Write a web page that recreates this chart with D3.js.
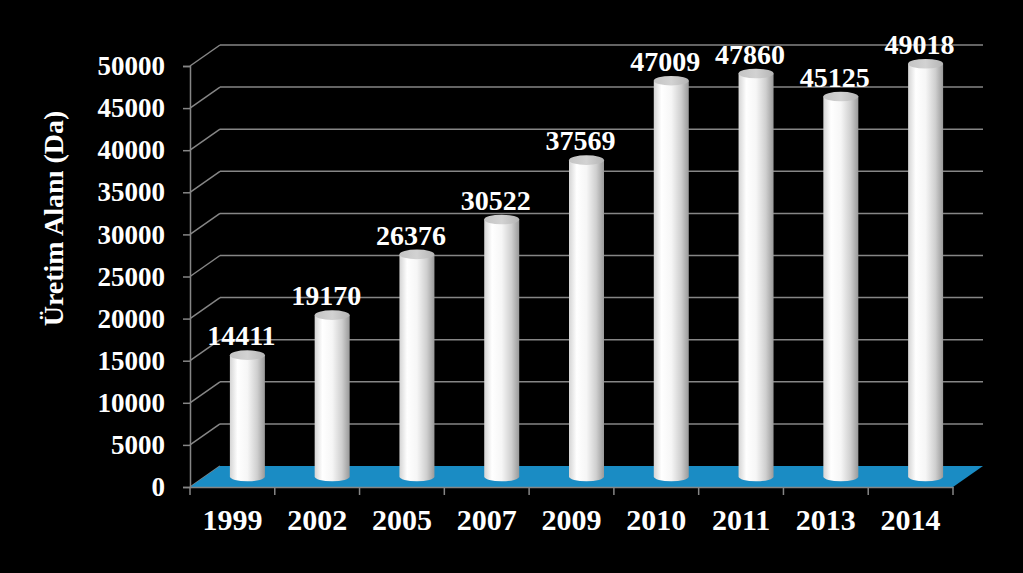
<!DOCTYPE html>
<html>
<head>
<meta charset="utf-8">
<script src="https://cdn.jsdelivr.net/npm/d3@7"></script>
<style>
  html, body { margin: 0; padding: 0; background: #000; }
  svg { display: block; }
</style>
</head>
<body>
<div id="chart"></div>
<script>
const years = ['1999', '2002', '2005', '2007', '2009', '2010', '2011', '2013', '2014'];
const areas = [14411, 19170, 26376, 30522, 37569, 47009, 47860, 45125, 49018];
const yTicks = [0, 5000, 10000, 15000, 20000, 25000, 30000, 35000, 40000, 45000, 50000];
const yTitle = 'Üretim Alanı (Da)';

const width = 1023, height = 573;
const plot = { left: 190, right: 953, bottom: 487, top: 66 };
// 3D depth offset
const dx = 30, dy = 21;
const font = "'Liberation Serif', 'Times New Roman', serif";

const svg = d3.select('#chart')
  .append('svg')
  .attr('width', width)
  .attr('height', height)
  .attr('viewBox', `0 0 ${width} ${height}`);

svg.append('rect')
  .attr('width', width)
  .attr('height', height)
  .attr('fill', '#000');

const defs = svg.append('defs');
const body = defs.append('linearGradient')
  .attr('id', 'cyl-body')
  .attr('x1', '0%').attr('x2', '100%').attr('y1', '0%').attr('y2', '0%');
[[0, '#d4d4d4'], [0.22, '#ffffff'], [0.5, '#f6f6f6'], [0.78, '#cfcfcf'], [1, '#9a9a9a']]
  .forEach(([o, c]) => body.append('stop').attr('offset', o).attr('stop-color', c));

const cap = defs.append('linearGradient')
  .attr('id', 'cyl-top')
  .attr('x1', '0%').attr('x2', '100%').attr('y1', '0%').attr('y2', '0%');
[[0, '#c4c4c4'], [0.5, '#d2d2d2'], [1, '#b4b4b4']]
  .forEach(([o, c]) => cap.append('stop').attr('offset', o).attr('stop-color', c));

const x = d3.scaleBand()
  .domain(years)
  .range([plot.left, plot.right]);

const y = d3.scaleLinear()
  .domain([0, 50000])
  .range([plot.bottom, plot.top]);

// gridlines: diagonal from the front axis to the back wall, then across the wall
const grid = svg.append('g');
grid.selectAll('.grid-diag')
  .data(yTicks)
  .enter()
  .append('line')
  .attr('x1', plot.left).attr('y1', d => y(d))
  .attr('x2', plot.left + dx).attr('y2', d => y(d) - dy)
  .attr('stroke', '#868686')
  .attr('stroke-width', 1.5);
grid.selectAll('.grid-back')
  .data(yTicks.filter(d => d > 0))
  .enter()
  .append('line')
  .attr('x1', plot.left + dx).attr('y1', d => y(d) - dy)
  .attr('x2', plot.right + dx).attr('y2', d => y(d) - dy)
  .attr('stroke', '#868686')
  .attr('stroke-width', 1.5);

// floor
svg.append('polygon')
  .attr('points', [
    [plot.left, y(0)], [plot.left + dx, y(0) - dy], [plot.right + dx, y(0) - dy], [plot.right, y(0)]
  ].map(p => p.join(',')).join(' '))
  .attr('fill', '#1a8cc4');

// y axis
const yAxis = svg.append('g')
  .attr('transform', `translate(${plot.left},0)`)
  .call(d3.axisLeft(y).tickValues(yTicks).tickSize(7).tickPadding(18).tickFormat(d3.format('d')));
yAxis.select('.domain').attr('stroke', '#868686').attr('stroke-width', 1.5);
yAxis.selectAll('.tick line').attr('stroke', '#868686').attr('stroke-width', 1.5);
yAxis.selectAll('text')
  .attr('fill', '#fff')
  .style('font-family', font)
  .style('font-weight', 'bold')
  .style('font-size', '27px');

// x axis
const xAxis = svg.append('g')
  .attr('transform', `translate(0,${plot.bottom})`)
  .call(d3.axisBottom(x).tickSize(0).tickPadding(22));
xAxis.select('.domain').attr('stroke', '#868686').attr('stroke-width', 1.5);
xAxis.selectAll('text')
  .attr('fill', '#fff')
  .attr('dy', '0.71em')
  .style('font-family', font)
  .style('font-weight', 'bold')
  .style('font-size', '30px');
xAxis.selectAll('.sep')
  .data(d3.range(years.length + 1))
  .enter()
  .append('line')
  .attr('x1', i => plot.left + i * x.step())
  .attr('x2', i => plot.left + i * x.step())
  .attr('y1', 0)
  .attr('y2', 8)
  .attr('stroke', '#868686')
  .attr('stroke-width', 1.5);

// cylinders
const rx = 17.5, ry = 4.8;
const cx = d => x(d) + x.bandwidth() / 2 + dx / 2;
const yz = v => y(v) - dy / 2;

const bars = svg.selectAll('.bar')
  .data(years.map((yr, i) => ({ yr, v: areas[i] })))
  .enter()
  .append('g')
  .attr('class', 'bar');

bars.append('path')
  .attr('d', d => {
    const c = cx(d.yr), y0 = yz(0), y1 = yz(d.v);
    return `M${c - rx},${y1} L${c - rx},${y0} A${rx},${ry} 0 0 0 ${c + rx},${y0} L${c + rx},${y1} Z`;
  })
  .attr('fill', 'url(#cyl-body)');

bars.append('ellipse')
  .attr('cx', d => cx(d.yr))
  .attr('cy', d => yz(d.v))
  .attr('rx', rx)
  .attr('ry', ry)
  .attr('fill', 'url(#cyl-top)');

bars.append('text')
  .attr('x', d => cx(d.yr) - 6)
  .attr('y', d => yz(d.v) - ry - 5)
  .attr('text-anchor', 'middle')
  .attr('fill', '#fff')
  .style('font-family', font)
  .style('font-weight', 'bold')
  .style('font-size', '28px')
  .text(d => d.v);

// y axis title
svg.append('text')
  .attr('transform', `translate(63,${(plot.top + plot.bottom) / 2 - 58}) rotate(-90)`)
  .attr('text-anchor', 'middle')
  .attr('fill', '#fff')
  .style('font-family', font)
  .style('font-weight', 'bold')
  .style('font-size', '28px')
  .text(yTitle);
</script>
</body>
</html>
